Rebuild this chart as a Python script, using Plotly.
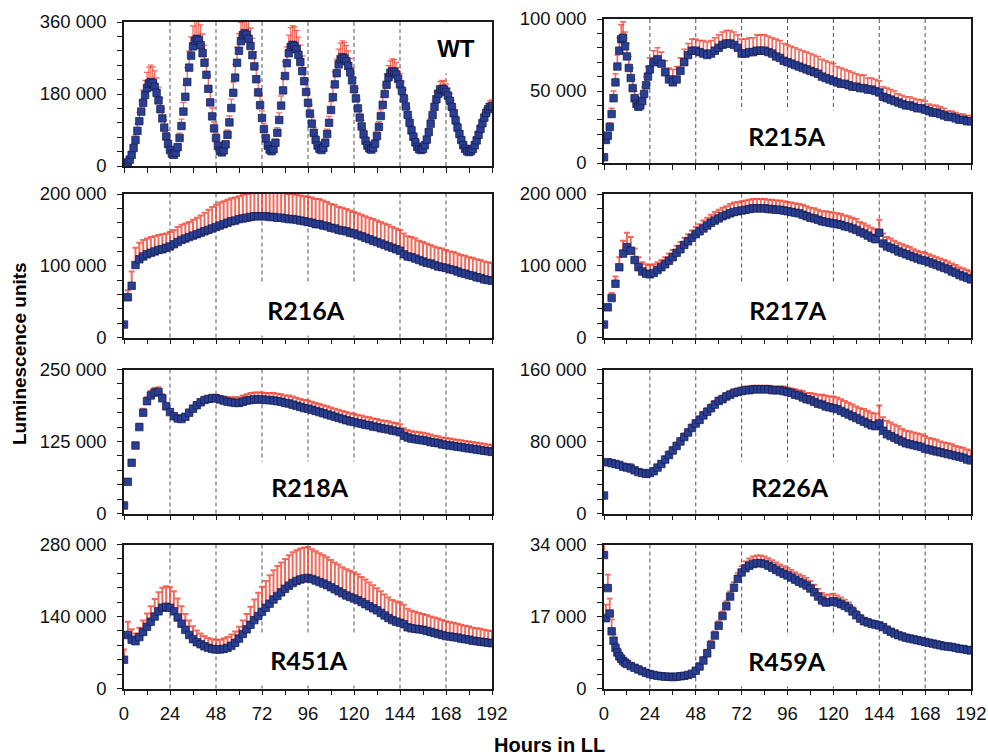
import numpy as np
import plotly.graph_objects as go

# ---------------- data (luminescence, thousands of units) ----------------
hours_wt = list(range(0, 193))
hours_r215a = list(range(0, 24)) + list(range(24, 193, 2))
hours_2h = list(range(0, 193, 2))
hours_r459a = list(range(0, 13)) + list(range(14, 193, 2))

wt_mean_k = [5, 6, 9, 16, 28, 45, 65, 88, 112, 136, 158, 178, 195, 206, 210,
             207, 198, 183, 164, 142, 119, 96, 74, 55, 40, 31, 28,
             33, 47, 70, 100, 136, 173, 210, 246, 276, 299, 313, 318,
             314, 302, 282, 258, 228, 193, 159, 124, 94, 70, 50, 38, 34,
             39, 54, 78, 109, 145, 183, 221, 258, 288, 312, 327, 332,
             328, 318, 300, 277, 249, 217, 184, 152, 120, 92, 69, 51, 41, 37,
             42, 58, 83, 115, 151, 189, 225, 257, 282, 298, 303,
             300, 292, 278, 260, 237, 212, 185, 158, 131, 106, 83, 65, 51, 43, 40,
             45, 58, 80, 108, 140, 172, 204, 232, 254, 267, 272,
             269, 262, 250, 234, 214, 192, 169, 144, 121, 99, 79, 63, 51, 44, 41,
             45, 56, 75, 98, 125, 153, 180, 203, 222, 233, 237,
             235, 229, 218, 204, 188, 169, 149, 128, 108, 89, 73, 59, 48, 42, 40,
             43, 52, 66, 85, 106, 127, 148, 167, 181, 190, 193,
             191, 185, 176, 163, 148, 132, 114, 96, 80, 65, 52, 43, 37, 35,
             37, 43, 52, 64, 78, 93, 107, 121, 133, 142, 148, 150]
wt_sd_k = [1, 1, 2, 3, 6, 9, 13, 18, 22, 27, 32, 36, 39, 41, 42,
           41, 40, 37, 33, 28, 24, 19, 15, 11, 8, 6, 6,
           6, 8, 12, 17, 23, 29, 36, 42, 47, 51, 53, 54,
           53, 51, 48, 44, 39, 33, 27, 21, 16, 12, 9, 6, 6,
           6, 8, 12, 16, 22, 27, 33, 39, 43, 47, 49, 50,
           49, 48, 45, 42, 37, 33, 28, 23, 18, 14, 10, 8, 6, 6,
           7, 9, 13, 18, 24, 30, 36, 41, 45, 48, 48,
           48, 47, 44, 42, 38, 34, 30, 25, 21, 17, 13, 10, 8, 7, 6,
           7, 9, 12, 16, 21, 26, 31, 35, 38, 40, 41,
           40, 39, 38, 35, 32, 29, 25, 22, 18, 15, 12, 9, 8, 7, 6,
           6, 7, 10, 13, 16, 20, 23, 26, 29, 30, 31,
           31, 30, 28, 27, 24, 22, 19, 17, 14, 12, 9, 8, 6, 5, 5,
           5, 6, 7, 9, 12, 14, 16, 18, 20, 21, 21,
           21, 20, 19, 18, 16, 15, 13, 11, 9, 7, 6, 5, 4, 4,
           4, 4, 5, 6, 8, 9, 11, 12, 13, 14, 15, 15]

r215a_mean_k = [4, 16, 19, 25, 34, 45, 56, 67, 78, 86, 87, 81, 74, 66, 59, 52, 45, 41, 39, 40, 43, 48, 54, 60,
                65, 70, 72, 69, 63, 58, 56, 58, 64, 70,
                75, 78, 78, 77, 76, 75, 76, 78, 80, 82,
                83, 83, 82, 80, 76, 76, 77, 77, 78, 78,
                78, 77, 76, 74, 73, 71, 70, 69, 68, 67,
                66, 65, 64, 63, 62, 60, 59, 58, 57, 56,
                55, 55, 54, 53, 53, 52, 52, 51, 51, 50,
                49, 46, 45, 44, 43, 42, 41, 40, 40, 39,
                38, 38, 37, 36, 35, 35, 34, 33, 32, 32,
                31, 30, 30, 29, 29]
r215a_sd_k = [0, 2, 2, 3, 4, 5, 6, 8, 9, 10, 11, 10, 9, 8, 7, 6, 5, 5, 4, 4, 5, 5, 6, 7,
              8, 8, 8, 8, 8, 8, 9, 9, 9, 9,
              8, 8, 8, 8, 9, 9, 9, 9, 9, 9,
              9, 9, 9, 9, 10, 10, 10, 10, 11, 11,
              11, 11, 11, 12, 12, 12, 12, 12, 12, 12,
              12, 12, 12, 12, 12, 12, 12, 12, 12, 11,
              11, 10, 10, 10, 9, 9, 9, 8, 8, 8,
              8, 7, 7, 7, 7, 6, 6, 6, 6, 6,
              6, 6, 6, 5, 5, 5, 5, 5, 4, 4,
              4, 4, 4, 4, 4]

r216a_mean_k = [18, 56, 72, 101, 109, 113, 116, 118, 120, 122,
                123, 125, 127, 130, 133, 136, 138, 140, 142, 144,
                146, 148, 150, 152, 154, 156, 158, 160, 162, 163,
                165, 166, 167, 168, 169, 169, 169, 169, 168, 168,
                167, 167, 166, 165, 165, 164, 163, 162, 161, 160,
                158, 158, 156, 155, 153, 152, 150, 149, 148, 146,
                145, 143, 141, 139, 137, 135, 133, 131, 129, 127,
                125, 123, 121, 116, 113, 112, 110, 108, 106, 104,
                103, 101, 99, 98, 97, 95, 94, 92, 90, 89,
                87, 86, 84, 83, 81, 80, 79]
r216a_sd_k = [0, 10, 20, 24, 23, 23, 22, 22, 21, 21,
              21, 20, 20, 20, 21, 21, 21, 21, 22, 23,
              24, 26, 28, 30, 31, 32, 32, 32, 32, 32,
              32, 33, 33, 33, 34, 34, 35, 35, 35, 35,
              35, 35, 35, 35, 35, 35, 35, 35, 35, 35,
              35, 35, 35, 34, 33, 33, 32, 32, 31, 31,
              30, 30, 30, 30, 30, 30, 30, 30, 30, 30,
              29, 29, 29, 29, 28, 28, 28, 27, 27, 27,
              26, 26, 26, 26, 25, 25, 25, 25, 25, 25,
              25, 25, 25, 25, 25, 25, 25]

r217a_mean_k = [18, 42, 55, 75, 98, 117, 126, 121, 108, 98,
                92, 89, 88, 90, 94, 98, 102, 107, 112, 118,
                123, 129, 134, 139, 144, 148, 152, 156, 160, 163,
                166, 169, 171, 173, 175, 176, 177, 178, 179, 180,
                180, 180, 180, 179, 179, 178, 178, 177, 176, 175,
                174, 173, 171, 169, 167, 166, 164, 162, 161, 160,
                159, 158, 157, 155, 154, 152, 150, 147, 145, 142,
                139, 137, 146, 131, 127, 125, 123, 120, 118, 116,
                114, 112, 110, 108, 107, 105, 103, 101, 99, 97,
                95, 92, 90, 87, 85, 83, 81]
r217a_sd_k = [0, 4, 7, 10, 14, 18, 20, 19, 16, 14,
              13, 13, 13, 12, 11, 10, 10, 10, 10, 10,
              10, 10, 10, 10, 10, 10, 11, 11, 11, 12,
              12, 12, 12, 13, 13, 13, 13, 13, 13, 13,
              13, 13, 13, 13, 13, 13, 13, 13, 13, 13,
              13, 13, 14, 14, 14, 14, 14, 14, 15, 15,
              15, 15, 15, 15, 15, 15, 15, 14, 14, 14,
              14, 14, 18, 14, 13, 13, 12, 12, 12, 12,
              12, 11, 11, 11, 11, 11, 11, 11, 11, 11,
              11, 11, 11, 11, 11, 11, 11]

r218a_mean_k = [14, 55, 88, 118, 150, 175, 195, 205, 210, 211,
                200, 186, 176, 169, 165, 164, 168, 175, 182, 188,
                193, 197, 199, 200, 200, 198, 196, 194, 193, 192,
                192, 194, 196, 197, 198, 198, 198, 197, 197, 196,
                195, 194, 192, 191, 189, 187, 185, 183, 182, 180,
                178, 176, 174, 172, 170, 168, 166, 164, 162, 160,
                159, 157, 156, 154, 153, 151, 150, 148, 147, 146,
                144, 143, 141, 135, 132, 130, 129, 128, 127, 126,
                124, 123, 122, 120, 119, 118, 117, 116, 115, 114,
                113, 112, 111, 110, 109, 108, 107]
r218a_sd_k = [0, 3, 4, 5, 6, 7, 7, 8, 8, 8,
              7, 6, 5, 5, 4, 4, 4, 5, 5, 5,
              5, 5, 5, 6, 6, 6, 7, 8, 9, 10,
              10, 11, 11, 12, 12, 12, 12, 12, 12, 13,
              13, 13, 13, 14, 14, 14, 14, 14, 14, 14,
              14, 14, 14, 14, 14, 14, 14, 14, 14, 14,
              14, 14, 14, 14, 14, 14, 14, 14, 14, 14,
              14, 14, 14, 13, 13, 13, 13, 13, 13, 13,
              13, 12, 12, 12, 12, 12, 12, 12, 12, 12,
              12, 12, 12, 12, 12, 12, 12]

r226a_mean_k = [20, 57, 56, 55, 54, 52, 51, 50, 48, 46,
                45, 44, 45, 47, 51, 55, 60, 65, 70, 75,
                80, 85, 90, 95, 100, 104, 109, 113, 117, 121,
                125, 127, 130, 132, 134, 135, 136, 137, 137, 138,
                138, 138, 138, 138, 137, 137, 137, 136, 135, 134,
                132, 131, 129, 127, 126, 124, 122, 121, 119, 118,
                117, 116, 114, 112, 110, 108, 106, 104, 102, 100,
                98, 97, 100, 92, 88, 86, 84, 82, 80, 78,
                77, 76, 75, 74, 72, 71, 70, 69, 68, 67,
                66, 65, 64, 63, 62, 60, 59]
r226a_sd_k = [0, 2, 1, 1, 1, 1, 2, 5, 1, 1,
              1, 1, 1, 2, 2, 3, 3, 4, 4, 4,
              4, 4, 4, 4, 4, 4, 4, 4, 4, 4,
              4, 4, 4, 4, 4, 4, 4, 4, 4, 4,
              4, 4, 4, 4, 4, 4, 4, 5, 5, 5,
              6, 6, 7, 7, 8, 9, 10, 11, 12, 12,
              13, 13, 13, 13, 13, 13, 13, 13, 14, 14,
              14, 14, 20, 15, 15, 15, 15, 15, 14, 14,
              14, 14, 14, 14, 14, 13, 13, 13, 12, 12,
              12, 12, 11, 11, 11, 11, 11]

r451a_mean_k = [56, 104, 95, 92, 100, 110, 120, 130, 140, 150,
                157, 159, 157, 150, 138, 126, 114, 104, 96, 90,
                86, 82, 79, 77, 76, 76, 77, 79, 83, 89,
                97, 106, 115, 124, 133, 141, 149, 157, 165, 173,
                180, 187, 194, 200, 205, 209, 212, 214, 215, 213,
                210, 207, 204, 201, 197, 193, 189, 185, 181, 178,
                175, 172, 168, 164, 160, 156, 152, 147, 142, 137,
                133, 130, 128, 125, 119, 117, 116, 115, 114, 112,
                110, 108, 106, 104, 102, 101, 100, 99, 97, 96,
                95, 93, 92, 91, 90, 89, 88]
r451a_sd_k = [20, 26, 20, 15, 18, 22, 26, 30, 34, 37,
              39, 40, 40, 39, 37, 34, 31, 28, 25, 23,
              21, 20, 19, 19, 19, 19, 20, 21, 22, 22,
              23, 26, 30, 35, 40, 45, 49, 52, 55, 57,
              58, 58, 58, 59, 60, 60, 60, 60, 60, 58,
              57, 56, 55, 54, 53, 52, 52, 51, 51, 51,
              51, 50, 49, 48, 46, 45, 43, 42, 41, 40,
              39, 39, 39, 38, 36, 34, 33, 32, 31, 31,
              30, 30, 30, 29, 29, 28, 28, 27, 27, 26,
              26, 25, 25, 25, 24, 24, 24]

r459a_mean_k = [31.5, 16.6, 23.7, 17.7, 13.5, 11.3, 9.6, 8.5, 7.6, 7.0, 6.5, 6.1, 5.8,
                5.3, 4.9, 4.5, 4.1, 3.7, 3.4, 3.2, 3.0, 2.9, 2.8,
                2.8, 2.7, 2.8, 2.9, 3.0, 3.2, 3.5, 4.2, 5.2, 6.6,
                8.3, 10.3, 12.5, 14.8, 17.1, 19.4, 21.7, 23.8, 25.9, 27.4,
                28.4, 29.0, 29.4, 29.6, 29.6, 29.4, 29.0, 28.5, 28.0, 27.5,
                27.1, 26.7, 26.2, 25.7, 25.2, 24.8, 24.3, 23.6, 22.7, 21.7,
                20.8, 20.3, 20.4, 20.6, 20.3, 19.9, 19.5, 19.0, 18.2, 17.3,
                16.5, 15.9, 15.6, 15.3, 15.1, 14.9, 14.5, 13.9, 13.4, 13.0,
                12.6, 12.3, 12.0, 11.8, 11.6, 11.4, 11.2, 11.0, 10.8, 10.6,
                10.4, 10.2, 10.0, 9.9, 9.8, 9.6, 9.4, 9.3, 9.1, 9.0]
r459a_sd_k = [5, 3.2, 3.2, 3.5, 2.8, 1.5, 1.2, 1.0, 0.9, 0.8, 0.7, 0.7, 0.6,
              0.6, 0.5, 0.5, 0.4, 0.4, 0.4, 0.3, 0.3, 0.3, 0.3,
              0.3, 0.3, 0.3, 0.3, 0.4, 0.4, 0.5, 0.6, 0.7, 0.8,
              0.9, 1.0, 1.0, 1.1, 1.1, 1.2, 1.2, 1.3, 1.4, 1.5,
              1.6, 1.7, 1.8, 1.8, 1.8, 1.8, 1.8, 1.8, 1.8, 1.8,
              1.8, 1.8, 1.8, 1.8, 1.8, 1.8, 1.8, 1.8, 1.8, 1.8,
              1.8, 1.8, 1.8, 1.8, 1.7, 1.6, 1.5, 1.3, 1.1, 1.0,
              0.9, 0.8, 0.8, 0.7, 0.7, 0.7, 0.6, 0.5, 0.5, 0.4,
              0.4, 0.4, 0.4, 0.3, 0.3, 0.3, 0.3, 0.3, 0.3, 0.3,
              0.3, 0.3, 0.3, 0.3, 0.3, 0.3, 0.3, 0.3, 0.3, 0.3]

panel_names = ["WT", "R215A", "R216A", "R217A", "R218A", "R226A", "R451A", "R459A"]
panel_hours = [hours_wt, hours_r215a, hours_2h, hours_2h, hours_2h, hours_2h, hours_2h, hours_r459a]
panel_means = [wt_mean_k, r215a_mean_k, r216a_mean_k, r217a_mean_k,
               r218a_mean_k, r226a_mean_k, r451a_mean_k, r459a_mean_k]
panel_sds = [wt_sd_k, r215a_sd_k, r216a_sd_k, r217a_sd_k,
             r218a_sd_k, r226a_sd_k, r451a_sd_k, r459a_sd_k]
y_max = [360000, 100000, 200000, 200000, 250000, 160000, 280000, 34000]
x_ticks = [0, 24, 48, 72, 96, 120, 144, 168, 192]
day_lines = [24, 48, 72, 96, 120, 144, 168]

for n, h, m, s in zip(panel_names, panel_hours, panel_means, panel_sds):
    if not (len(h) == len(m) == len(s)):
        raise ValueError(f"{n}: hours {len(h)} mean {len(m)} sd {len(s)}")

# ---------------- layout geometry (pixels) ----------------
W, H = 988, 756
col_x = [(124, 492), (604, 971)]
row_y = {0: [(22, 166), (19, 163)], 1: [(194, 337.5)] * 2,
         2: [(369.5, 513.5)] * 2, 3: [(544.5, 688.5)] * 2}
label_pos = [(456, 48, 68), (787, 136, 108), (306, 310, 108), (788, 310, 108),
             (310, 487, 108), (790, 487, 108), (309, 660, 108), (787, 661, 108)]
err_thick = [1.3, 1.6, 2.0, 2.0, 2.0, 2.0, 2.0, 1.8]

def px_x(v):
    return v / W

def px_y(v):
    return 1 - v / H

FONT = "Liberation Sans, Arial, sans-serif"
AX = "#1a1a1a"
fig = go.Figure()
shapes, annotations = [], []

for i in range(8):
    row, col = divmod(i, 2)
    k = i + 1
    xs = "" if k == 1 else str(k)
    x0p, x1p = col_x[col]
    ytop, ybot = row_y[row][col]
    fig.add_trace(go.Scatter(
        x=panel_hours[i], y=np.array(panel_means[i]) * 1000,
        mode="markers", xaxis="x" + xs, yaxis="y" + xs, showlegend=False,
        marker=dict(symbol="square", size=7.5, color="#2a3f94",
                    line=dict(color="#121a48", width=0.7)),
        error_y=dict(type="data", symmetric=False,
                     array=np.array(panel_sds[i]) * 1000,
                     arrayminus=[0] * len(panel_sds[i]),
                     color="rgba(238,64,46,0.78)", thickness=err_thick[i], width=3),
    ))
    fig.layout["xaxis" + xs] = dict(
        domain=[px_x(x0p), px_x(x1p)], range=[0, 192], anchor="y" + xs,
        automargin=False,
        tickmode="array", tickvals=x_ticks, ticks="outside", ticklen=5, tickwidth=1.2,
        tickcolor=AX, showline=True, linecolor=AX, linewidth=1.5, mirror=True,
        showgrid=False, zeroline=False, showticklabels=(row == 3),
        ticklabelstandoff=3,
        minor=dict(dtick=12, tick0=0, ticks="outside", ticklen=5, tickwidth=1.2, tickcolor=AX),
        tickfont=dict(family=FONT, size=18.5, color="#111"),
    )
    ym = y_max[i]
    fig.layout["yaxis" + xs] = dict(
        domain=[px_y(ybot), px_y(ytop)], range=[0, ym], anchor="x" + xs,
        automargin=False,
        tickmode="linear", tick0=0, dtick=ym / 2, tickformat=",d",
        ticks="outside", ticklen=5, tickwidth=1.2, tickcolor=AX,
        showline=True, linecolor=AX, linewidth=1.5, mirror=True,
        showgrid=False, zeroline=False, ticklabelstandoff=7,
        minor=dict(dtick=ym / 10, tick0=0, ticks="outside", ticklen=5, tickwidth=1.2, tickcolor=AX),
        tickfont=dict(family=FONT, size=18.5, color="#111"),
    )
    for d in day_lines:
        shapes.append(dict(type="line", xref="x" + xs, yref="y" + xs + " domain",
                           x0=d, x1=d, y0=0, y1=1, layer="below",
                           line=dict(color="#555", width=1, dash="4px,3px")))
    lx, ly, lw = label_pos[i]
    is_wt = panel_names[i] == "WT"
    annotations.append(dict(
        text="<b>" + panel_names[i] + "</b>", xref="paper", yref="paper",
        x=px_x(lx), y=px_y(ly), xanchor="center", yanchor="middle",
        showarrow=False, bgcolor="white", width=lw, height=50, borderpad=0,
        font=dict(family=(FONT if is_wt else "Lato, Open Sans, sans-serif"),
                  size=(24 if is_wt else 25), color="#000"),
    ))

annotations.append(dict(text="<b>Luminescence units</b>", xref="paper", yref="paper",
                        x=px_x(19), y=px_y(354), textangle=-90, showarrow=False,
                        xanchor="center", yanchor="middle",
                        font=dict(family=FONT, size=19, color="#000")))
annotations.append(dict(text="<b>Hours in LL</b>", xref="paper", yref="paper",
                        x=px_x(549), y=px_y(745), showarrow=False,
                        xanchor="center", yanchor="middle",
                        font=dict(family=FONT, size=20, color="#000")))

fig.update_layout(template="none", width=W, height=H, autosize=False,
                  margin=dict(l=0, r=0, t=0, b=0, pad=0),
                  paper_bgcolor="white", plot_bgcolor="white",
                  separators=". ", shapes=shapes, annotations=annotations)
fig.write_html("out.html", config={"displayModeBar": False},
               post_script="document.body.style.margin='0';document.body.style.overflow='hidden';")
